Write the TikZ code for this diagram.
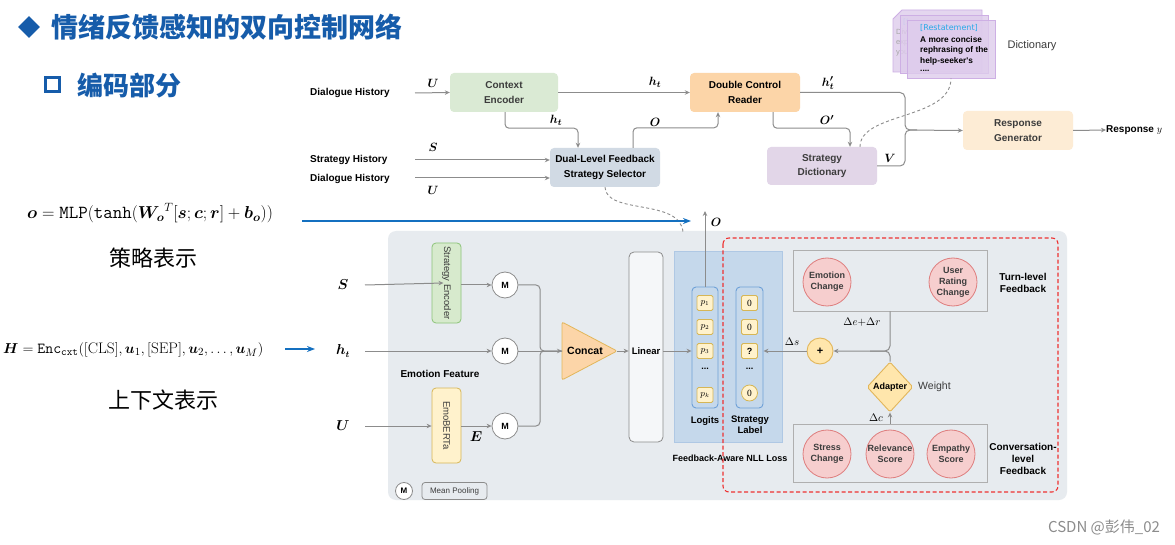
\documentclass[tikz,border=0pt]{standalone}
\usepackage{amsmath,bm}
\usepackage{fontspec}
\usetikzlibrary{arrows.meta,shapes.geometric,calc}
\newfontfamily\lsans{Liberation Sans}
\newfontfamily\lserif{Liberation Serif}
\newfontfamily\cjk{Noto Sans CJK SC}
\newfontfamily\dvs{DejaVu Sans}
\newcommand\fsz[2]{\fontsize{#1}{#2}\selectfont}
\definecolor{tblue}{RGB}{22,92,170}
\definecolor{lblue}{RGB}{20,112,192}
\definecolor{agray}{RGB}{140,140,140}
\definecolor{panel}{RGB}{231,235,239}
\definecolor{cegreen}{RGB}{218,234,212}
\definecolor{dcorange}{RGB}{252,213,168}
\definecolor{rgorange}{RGB}{253,236,213}
\definecolor{selblue}{RGB}{209,218,228}
\definecolor{sdpurple}{RGB}{226,214,232}
\definecolor{encgreen}{RGB}{215,234,205}
\definecolor{encgreenb}{RGB}{140,195,120}
\definecolor{yel}{RGB}{255,242,204}
\definecolor{yelb}{RGB}{214,182,86}
\definecolor{nllblue}{RGB}{197,216,235}
\definecolor{nllblueb}{RGB}{175,200,228}
\definecolor{colb}{RGB}{110,160,215}
\definecolor{pinkf}{RGB}{246,206,206}
\definecolor{pinkb}{RGB}{222,125,125}
\definecolor{addfill}{RGB}{255,230,172}
\definecolor{addb}{RGB}{226,182,90}
\definecolor{redd}{RGB}{238,50,50}
\definecolor{cardf}{RGB}{222,204,236}
\definecolor{cardb}{RGB}{205,175,228}
\definecolor{cardt}{RGB}{40,170,232}
\definecolor{txtg}{RGB}{60,60,60}
\tikzset{
  lbl/.style={font=\lsans\bfseries\fsz{10}{12}, text=black, inner sep=0},
  ml/.style={font=\fsz{12.5}{14}, inner sep=0},
  conn/.style={draw=agray, line width=1pt},
  arr/.style={conn, -{Stealth[length=5pt,width=4.5pt]}},
  barr/.style={draw=lblue, line width=1.8pt, -{Stealth[length=8pt,width=6pt]}},
  dashc/.style={draw=agray, line width=0.9pt, dash pattern=on 3pt off 2.5pt},
  topbox/.style={rounded corners=4pt, minimum width=108pt, minimum height=39pt, align=center, inner sep=0, font=\lsans\bfseries\fsz{10}{14.5}},
  encbox/.style={rounded corners=4pt, fill=encgreen, draw=encgreenb, line width=0.8pt, minimum width=29pt, minimum height=80pt, inner sep=0},
  mc/.style={circle, draw=agray, fill=white, minimum size=26pt, inner sep=0, line width=0.8pt, font=\lsans\bfseries\fsz{9}{10}},
  colsty/.style={rounded corners=4pt, draw=colb, line width=0.9pt, fill=nllblue, minimum width=26pt, minimum height=121pt, inner sep=0},
  itm/.style={rounded corners=1.5pt, fill=yel, draw=yelb, line width=0.8pt, minimum width=16pt, minimum height=15pt, inner sep=0, font=\fsz{9}{10}},
  fbx/.style={draw=agray!70, line width=0.9pt, fill=panel, minimum width=194pt, minimum height=61pt, inner sep=0},
  circ/.style={circle, draw=pinkb, fill=pinkf, line width=0.8pt, minimum size=48pt, inner sep=0, align=center, font=\lsans\bfseries\fsz{9}{11}, text=txtg},
  card/.style={fill=cardf, fill opacity=0.8, draw=cardb, line width=0.8pt, minimum width=88pt, minimum height=58pt, inner sep=0},
  cardtxt/.style={anchor=west, inner sep=0, font=\lsans\bfseries\fsz{8.3}{9}}
}
\begin{document}
\begin{tikzpicture}[x=1pt,y=-1pt]
\useasboundingbox (0,0) rectangle (1175,545);
\fill[white] (0,0) rectangle (1175,545);

% ---------- titles ----------
\node[diamond, fill=tblue, minimum width=22pt, minimum height=22pt, inner sep=0] (tdia) at (29,27) {};
\node[anchor=west, inner sep=0, text=tblue, font=\cjk\bfseries\fsz{27}{30}] (title) at (51,27) {情绪反馈感知的双向控制网络};
\node[draw=tblue, line width=3pt, minimum size=14pt, inner sep=0] (tsq) at (52.5,84.5) {};
\node[anchor=west, inner sep=0, text=tblue, font=\cjk\bfseries\fsz{26}{30}] (sub) at (77,86) {编码部分};

% ---------- formulas ----------
\node[anchor=west, inner sep=0, font=\fsz{18.4}{21}] (f1) at (27,213) {$\bm{o}=\mathtt{MLP}(\mathtt{tanh}({\bm{W_o}}^{T}[\bm{s};\bm{c};\bm{r}]+\bm{b_o}))$};
\node[inner sep=0, font=\cjk\fsz{22}{26}] (c1) at (153,258) {策略表示};
\node[anchor=west, inner sep=0, font=\fsz{15.3}{18}] (f2) at (3,350) {$\bm{H}=\mathtt{Enc}_{\mathtt{cxt}}([\mathrm{CLS}],\bm{u}_1,[\mathrm{SEP}],\bm{u}_2,\ldots,\bm{u}_M)$};
\node[inner sep=0, font=\cjk\fsz{22}{26}] (c2) at (163,400) {上下文表示};

% ---------- top diagram ----------
\node[lbl, anchor=west] (dh1) at (310,93) {Dialogue History};
\node[lbl, anchor=west] (shl) at (310,160) {Strategy History};
\node[lbl, anchor=west] (dh2) at (310,179) {Dialogue History};
\node[topbox, fill=cegreen, text=txtg] (ce) at (504,92.5) {Context\\Encoder};
\node[topbox, fill=dcorange, minimum width=110pt] (dcr) at (745,92.5) {Double Control\\Reader};
\node[topbox, fill=selblue, minimum width=110pt] (sel) at (605,167.5) {Dual-Level Feedback\\Strategy Selector};
\node[topbox, fill=sdpurple, text=txtg, minimum width=110pt, minimum height=38pt] (sd) at (822,166) {Strategy\\Dictionary};
\node[topbox, fill=rgorange, text=txtg, minimum width=110pt] (rg) at (1018,130.5) {Response\\Generator};
\node[lbl, anchor=west] (resp) at (1106,130) {Response $y$};

\coordinate (u1s) at (415,93);
\draw[arr] (u1s) -- (ce.west);
\node[ml] at (433,83) {$\bm{U}$};
\draw[arr] (ce.east) -- (dcr.west);
\node[ml] at (655,82) {$\bm{h_t}$};
\draw[arr, rounded corners=4pt] ([xshift=1pt]ce.south) -- ++(0,16) -| ([xshift=-27pt]sel.north);
\node[ml] at (556,120) {$\bm{h_t}$};
\coordinate (ss) at (415,160);
\draw[arr] (ss) -- (sel.west |- ss);
\node[ml] at (433,147) {$\bm{S}$};
\coordinate (us2) at (415,178);
\draw[arr] (us2) -- (sel.west |- us2);
\node[ml] at (433,190) {$\bm{U}$};
\draw[arr, rounded corners=4pt] ([xshift=28pt]sel.north) -- ++(0,-20) -| ([xshift=-27pt]dcr.south);
\node[ml] at (655,122) {$\bm{O}$};
\draw[arr, rounded corners=4pt] ([xshift=28pt]dcr.south) -- ++(0,16) -| ([xshift=28pt]sd.north);
\node[ml] at (827,120) {$\bm{O'}$};
\coordinate (mj) at (905,130);
\draw[arr, rounded corners=5pt] (dcr.east) -| (mj) -- (rg.west);
\draw[conn, rounded corners=5pt] (sd.east) -| (mj) -- ++(12,0);
\node[ml] at (828,83) {$\bm{h'_t}$};
\node[ml] at (890,158) {$\bm{V}$};
\draw[arr] (rg.east) -- (resp.west);

% dictionary cards
\draw[fill=cardf, fill opacity=0.8, draw=cardb, line width=0.8pt] (893,19) -- (902,10) -- (982,10) -- (982,72) -- (893,72) -- cycle;
\begin{scope}
\clip (890,8) rectangle (907,80);
\node[cardtxt, text=cardt!60, font=\dvs\fsz{7.5}{9}] (bk1) at (903,22) {[Self-disclosure]};
\node[cardtxt, text=black!35, font=\lsans\fsz{7.5}{9}] (bk2) at (896,33) {Divulge similar};
\node[cardtxt, text=black!35, font=\lsans\fsz{7.5}{9}] (bk3) at (896,43) {experiences that};
\node[cardtxt, text=black!35, font=\lsans\fsz{7.5}{9}] (bk4) at (896,53) {you ...};
\end{scope}
\node[card] (card2) at (944,44) {};
\node[card] (card3) at (951,49) {};
\node[cardtxt, text=cardt, font=\dvs\fsz{8}{9}] (ft1) at (920,28) {[Restatement]};
\node[cardtxt] (ft2) at (920,40) {A more concise};
\node[cardtxt] (ft3) at (920,50.5) {rephrasing of the};
\node[cardtxt] (ft4) at (920,61) {help-seeker's};
\node[cardtxt] (ft5) at (920,71) {....};
\node[font=\lsans\fsz{11}{12}, text=txtg, inner sep=0] (dictl) at (1032,46) {Dictionary};
\draw[dashc] ([xshift=38pt]sd.north) .. controls (860,112) and (951,120) .. (card3.south);

% ---------- bottom panel ----------
\node[fill=panel, rounded corners=8pt, minimum width=679pt, minimum height=269pt, inner sep=0] (panel) at (727.5,365.5) {};
\coordinate (dsel) at (683,232);
\draw[dashc] (sel.south) .. controls (606,215) and (680,198) .. (dsel);
\coordinate (b1s) at (302,221);
\coordinate (b1e) at (691,221);
\draw[barr] (b1s) -- (b1e);
\coordinate (b2s) at (285,349);
\coordinate (b2e) at (315,349);
\draw[barr] (b2s) -- (b2e);

% inputs
\node[ml, font=\fsz{13.5}{15}] (sL) at (343,285) {$\bm{S}$};
\node[ml, font=\fsz{13.5}{15}] (hL) at (343,351) {$\bm{h_t}$};
\node[ml, font=\fsz{13.5}{15}] (uL) at (343,426) {$\bm{U}$};
\node[encbox] (senc) at (446.5,283) {};
\node[rotate=-90, font=\lsans\fsz{9.5}{10}, text=txtg, inner sep=0] (sencT) at (senc.center) {Strategy Encoder};
\node[encbox, fill=yel, draw=yelb, minimum height=75pt] (emob) at (446.5,425.5) {};
\node[rotate=-90, font=\lsans\fsz{9.5}{10}, text=txtg, inner sep=0] (emobT) at (emob.center) {EmoBERTa};
\node[mc] (m1) at (505,285) {M};
\node[mc] (m2) at (505,351) {M};
\node[mc] (m3) at (505,426) {M};
\coordinate (sIn) at (365,285);
\draw[arr] (sIn) -- ([xshift=-3pt]senc.center);
\draw[arr] (senc.east |- m1) -- (m1.west);
\coordinate (hIn) at (365,351);
\draw[arr] (hIn) -- (m2.west);
\coordinate (uIn) at (365,426);
\draw[arr] (uIn) -- (emob.west |- uIn);
\draw[arr] (emob.east |- m3) -- (m3.west);
\node[ml, font=\fsz{13.5}{15}] (eL) at (476,437) {$\bm{E}$};
\node[lbl] (ef) at (440,374) {Emotion Feature};

% concat
\draw[fill=dcorange, draw=addb, line width=0.8pt, rounded corners=2pt] (562,322) -- (617,351) -- (562,380) -- cycle;
\coordinate (concatL) at (562,351);
\coordinate (concatR) at (617,351);
\node[lbl, font=\lsans\bfseries\fsz{10.5}{12}] (concat) at (585,351) {Concat};
\coordinate (mg) at (540,351);
\draw[conn, rounded corners=4pt] (m1.east) -| (mg) -- (concatL);
\draw[conn, rounded corners=4pt] (m3.east) -| (mg) -- (concatL);
\draw[arr] (m2.east) -- (concatL);

% linear
\node[rounded corners=5pt, draw=agray, fill=panel!40!white, minimum width=34pt, minimum height=190pt, inner sep=0, line width=0.8pt] (lin) at (646,347) {};
\node[lbl, font=\lsans\bfseries\fsz{9.5}{11}] (linT) at (lin |- m2) {Linear};
\draw[arr] (concatR) -- (lin.west |- concatR);

% NLL area
\node[fill=nllblue, draw=nllblueb, minimum width=108pt, minimum height=191pt, inner sep=0] (nll) at (728,346.5) {};
\node[colsty] (logc) at (705,347.5) {};
\node[colsty, minimum width=27pt] (labc) at (749.5,347.5) {};
\node[itm] (p1) at (705,303) {$p_1$};
\node[itm] (p2) at (705,327) {$p_2$};
\node[itm] (p3) at (705,351) {$p_3$};
\node[lbl, font=\lsans\bfseries\fsz{9}{10}] (pd) at (705,369) {...};
\node[itm] (pk) at (705,395) {$p_k$};
\node[itm, font=\lserif\fsz{9.5}{10}] (l1) at (749.5,303) {0};
\node[itm, font=\lserif\fsz{9.5}{10}] (l2) at (749.5,327) {0};
\node[itm, font=\lsans\bfseries\fsz{9}{10}] (l3) at (749.5,351) {?};
\node[lbl, font=\lsans\bfseries\fsz{9}{10}] (ld) at (749.5,369) {...};
\node[itm, circle, minimum size=16pt, font=\lserif\fsz{9.5}{10}] (l4) at (749.5,393) {0};
\node[lbl, font=\lsans\bfseries\fsz{9.5}{11}] (logT) at (705,421) {Logits};
\node[lbl, align=center, font=\lsans\bfseries\fsz{9.5}{11}] (slT) at (750,425) {Strategy\\Label};
\node[lbl, font=\lsans\bfseries\fsz{9}{11}] (nllT) at (730,458) {Feedback-Aware NLL Loss};
\draw[arr] (lin.east |- p3) -- (logc.west |- p3);
\coordinate (oTop) at (705,211);
\draw[arr] (logc.north) -- (oTop);
\node[ml] (oL) at (716,222) {$\bm{O}$};

% red dashed region
\draw[redd, line width=1.1pt, dash pattern=on 4pt off 2.5pt, rounded corners=6pt] (723,238) rectangle (1058,492);

% feedback
\node[fbx] (turn) at (890,280.5) {};
\node[circ] (emc) at (827,282) {Emotion\\Change};
\node[circ] (urc) at (953,282) {User\\Rating\\Change};
\node[fbx, minimum height=58pt] (conv) at (890,453) {};
\node[circ] (stc) at (827,454) {Stress\\Change};
\node[circ] (rsc) at (890,454) {Relevance\\Score};
\node[circ] (eps) at (951,454) {Empathy\\Score};
\node[lbl, align=center, font=\lsans\bfseries\fsz{10}{12}] (tlf) at (1023,283) {Turn-level\\Feedback};
\node[lbl, align=center, font=\lsans\bfseries\fsz{10}{12}] (clf) at (1023,459) {Conversation-\\level\\Feedback};
\node[circle, fill=addfill, draw=addb, line width=0.9pt, minimum size=26pt, inner sep=0, font=\lsans\bfseries\fsz{11}{12}] (plus) at (820,351) {+};
\node[diamond, fill=addfill, draw=addb, line width=0.9pt, minimum width=46pt, minimum height=50pt, inner sep=0, rounded corners=2pt, font=\lsans\bfseries\fsz{9}{10}] (adp) at (890,387) {Adapter};
\node[font=\lsans\fsz{10.5}{12}, text=txtg, anchor=west, inner sep=0] (wt) at (918,387) {Weight};
\draw[arr, rounded corners=5pt] (turn.south) |- (plus.east);
\coordinate (pj) at (870,351);
\draw[conn, rounded corners=5pt] (adp.north) |- (pj);
\draw[arr] (plus.west) -- (labc.east |- plus);
\draw[arr] (conv.north) -- (adp.south);
\node[ml, font=\fsz{10.5}{12}] (dsL) at (792,342) {$\Delta s$};
\node[ml, font=\fsz{10.5}{12}] (derL) at (862,322) {$\Delta e{+}\Delta r$};
\node[ml, font=\fsz{10.5}{12}] (dcL) at (876,418) {$\Delta c$};

% legend
\node[mc, minimum size=17pt, font=\lsans\bfseries\fsz{8}{9}] (lm) at (404,491) {M};
\node[draw=agray, rounded corners=3pt, fill=panel, line width=0.8pt, minimum width=65pt, minimum height=17pt, inner sep=0, font=\lsans\fsz{8}{9}, text=txtg] (lmp) at (454.5,491) {Mean Pooling};

% watermark
\node[font=\cjk\fsz{15}{17}, text=black!45, inner sep=0] (wm) at (1104,527) {CSDN @彭伟\_02};
\end{tikzpicture}
\end{document}
